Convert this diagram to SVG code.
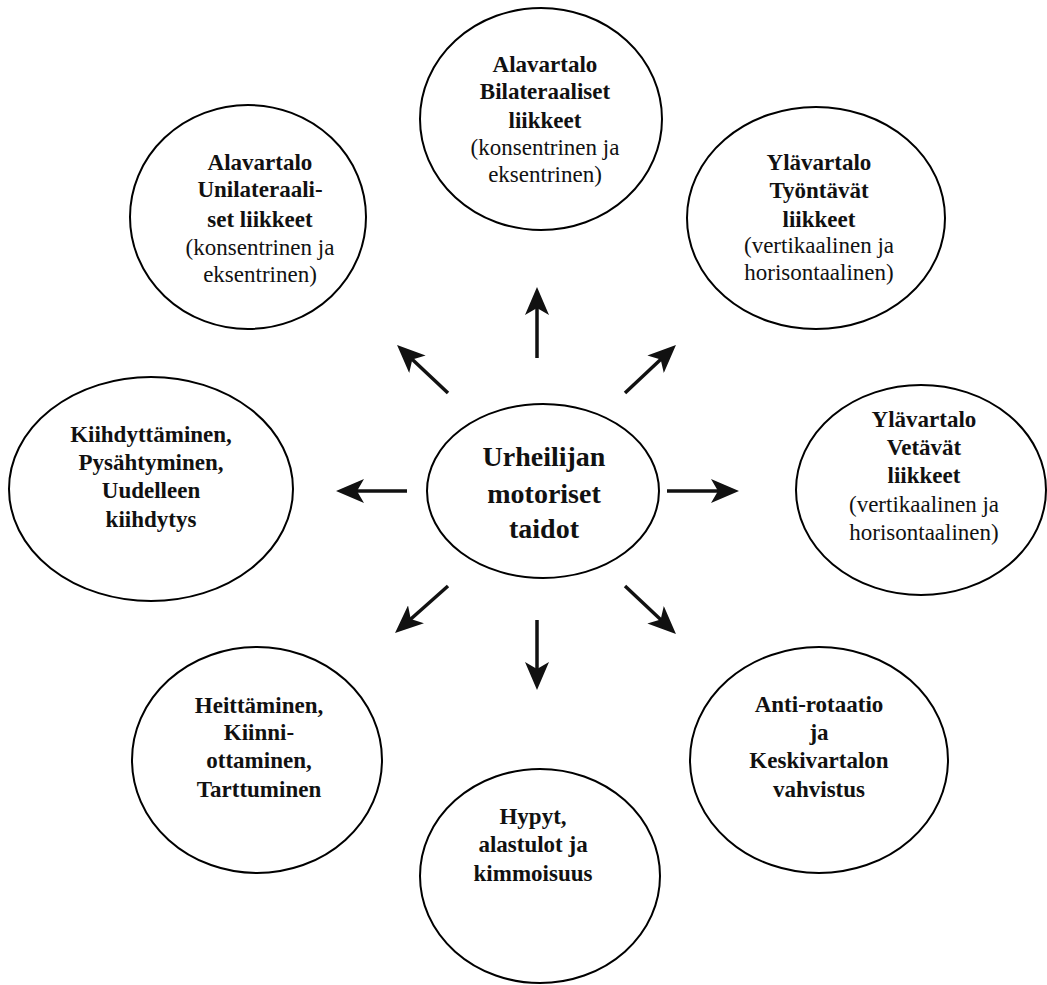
<svg xmlns="http://www.w3.org/2000/svg" width="1047" height="985" viewBox="0 0 1047 985">
<style>
.node ellipse{fill:#fff;stroke:#000;stroke-width:2}
text{font-family:"Liberation Serif","Times New Roman",serif;font-size:23px;fill:#111;text-anchor:middle}
.b{font-weight:bold}
.c{font-weight:bold;font-size:28px}
.arr line{stroke:#111;stroke-width:3.5}
</style>
<defs>
<marker id="ah" viewBox="0 0 28 24" refX="8" refY="12" markerWidth="28" markerHeight="24" markerUnits="userSpaceOnUse" orient="auto">
<path d="M28,12 L0,0 L7,12 L0,24 Z" fill="#111"/>
</marker>
</defs>
<rect width="1047" height="985" fill="#fff"/>
<g id="connectors" class="arr">
<line x1="537" y1="358" x2="537" y2="307" marker-end="url(#ah)"/>
<line x1="448" y1="393" x2="411.6" y2="358.7" marker-end="url(#ah)"/>
<line x1="625" y1="393" x2="661.4" y2="358.7" marker-end="url(#ah)"/>
<line x1="407" y1="491" x2="356" y2="491" marker-end="url(#ah)"/>
<line x1="667" y1="491" x2="719" y2="491" marker-end="url(#ah)"/>
<line x1="448" y1="586" x2="410" y2="619.7" marker-end="url(#ah)"/>
<line x1="537" y1="620" x2="537" y2="670" marker-end="url(#ah)"/>
<line x1="625" y1="586" x2="661.4" y2="620.3" marker-end="url(#ah)"/>
</g>
<g id="center" class="node">
<ellipse cx="543" cy="491" rx="116" ry="87"/>
<text class="c" x="544" y="466">Urheilijan</text>
<text class="c" x="544" y="503">motoriset</text>
<text class="c" x="544" y="538">taidot</text>
</g>
<g id="top" class="node">
<ellipse cx="541" cy="119" rx="121" ry="111"/>
<text class="b" x="545" y="72">Alavartalo</text>
<text class="b" x="545" y="99">Bilateraaliset</text>
<text class="b" x="545" y="128">liikkeet</text>
<text x="545" y="155">(konsentrinen ja</text>
<text x="545" y="182">eksentrinen)</text>
</g>
<g id="upper-left" class="node">
<ellipse cx="248" cy="217" rx="118" ry="112"/>
<text class="b" x="260" y="170">Alavartalo</text>
<text class="b" x="260" y="197">Unilateraali-</text>
<text class="b" x="260" y="227">set liikkeet</text>
<text x="260" y="255">(konsentrinen ja</text>
<text x="260" y="282">eksentrinen)</text>
</g>
<g id="upper-right" class="node">
<ellipse cx="816" cy="218" rx="129" ry="111"/>
<text class="b" x="819" y="170">Ylävartalo</text>
<text class="b" x="819" y="198">Työntävät</text>
<text class="b" x="819" y="227">liikkeet</text>
<text x="819" y="253">(vertikaalinen ja</text>
<text x="819" y="280">horisontaalinen)</text>
</g>
<g id="left" class="node">
<ellipse cx="151" cy="489" rx="142" ry="112"/>
<text class="b" x="151" y="442">Kiihdyttäminen,</text>
<text class="b" x="151" y="470">Pysähtyminen,</text>
<text class="b" x="151" y="498">Uudelleen</text>
<text class="b" x="151" y="527">kiihdytys</text>
</g>
<g id="right" class="node">
<ellipse cx="921" cy="490" rx="125" ry="105"/>
<text class="b" x="924" y="427">Ylävartalo</text>
<text class="b" x="924" y="455">Vetävät</text>
<text class="b" x="924" y="483">liikkeet</text>
<text x="924" y="512">(vertikaalinen ja</text>
<text x="924" y="540">horisontaalinen)</text>
</g>
<g id="bottom-left" class="node">
<ellipse cx="257" cy="760" rx="125" ry="113"/>
<text class="b" x="259" y="713">Heittäminen,</text>
<text class="b" x="259" y="740">Kiinni-</text>
<text class="b" x="259" y="768">ottaminen,</text>
<text class="b" x="259" y="797">Tarttuminen</text>
</g>
<g id="bottom-right" class="node">
<ellipse cx="819" cy="760" rx="129" ry="113"/>
<text class="b" x="819" y="712">Anti-rotaatio</text>
<text class="b" x="819" y="740">ja</text>
<text class="b" x="819" y="768">Keskivartalon</text>
<text class="b" x="819" y="797">vahvistus</text>
</g>
<g id="bottom" class="node">
<ellipse cx="540" cy="876" rx="120" ry="107"/>
<text class="b" x="533" y="824">Hypyt,</text>
<text class="b" x="533" y="852">alastulot ja</text>
<text class="b" x="533" y="881">kimmoisuus</text>
</g>
</svg>
